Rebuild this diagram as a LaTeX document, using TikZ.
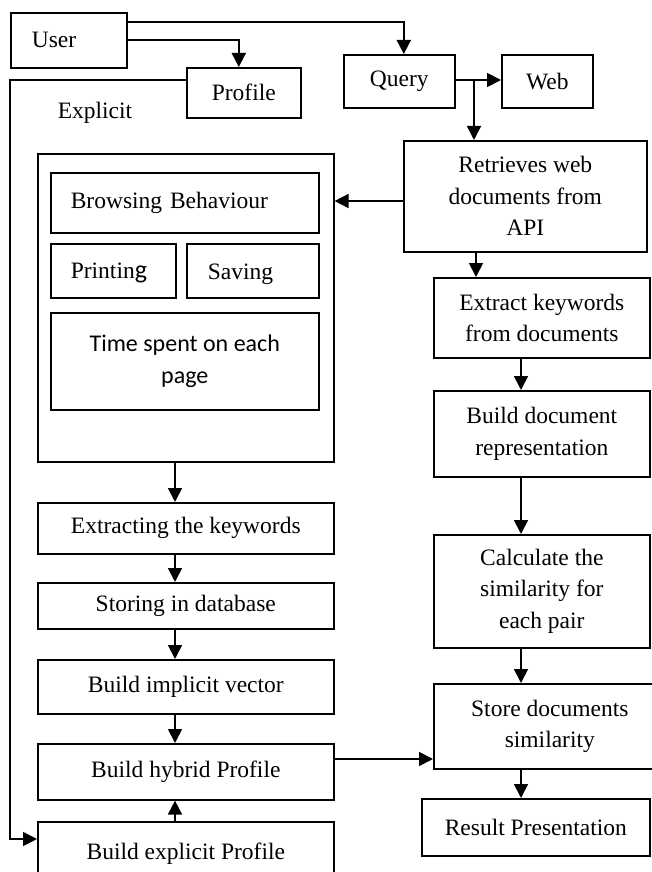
\documentclass[tikz,border=0pt]{standalone}
\usepackage{fontspec}
\setmainfont{Liberation Serif}
\newfontfamily\carlito{Carlito}
\usetikzlibrary{arrows.meta}

\tikzset{
  box/.style={draw, line width=1.6pt, rectangle, anchor=north west, inner sep=0pt,
    align=center, font=\fontsize{23.5}{31.5}\selectfont},
  lbox/.style={box, align=left},
  arr/.style={line width=1.8pt, -{Triangle[length=14pt,width=14pt]}},
  lbl/.style={font=\fontsize{23.5}{31.5}\selectfont, inner sep=0pt}
}

\begin{document}
\begin{tikzpicture}[x=1pt, y=-1pt]
  \useasboundingbox (0,0) rectangle (652,872);
  \fill[white] (0,0) rectangle (652,872);
  \clip (0,0) rectangle (652,872);

  % top row
  \node[lbox, minimum width=116pt, minimum height=55pt, inner xsep=21pt, text width=74pt] (User) at (10,12) {User};
  \node[box, minimum width=114pt, minimum height=50pt] (Profile) at (186,67) {Profile};
  \node[box, minimum width=111pt, minimum height=53pt] (Query) at (343,54) {Query};
  \node[box, minimum width=91pt, minimum height=53pt] (Web) at (501,54) {Web};
  \node[lbl] (ExplicitLbl) at (95,113) {Explicit};

  % implicit feedback block
  \node[box, minimum width=296pt, minimum height=308pt] (Bigbox) at (37,153) {};
  \node[lbox, minimum width=268pt, minimum height=60pt, inner xsep=20pt, text width=228pt] (Browse) at (50,172) {Browsing Behaviour};
  \node[lbox, minimum width=125pt, minimum height=54pt, inner xsep=20pt, text width=85pt, text depth=-6pt] (Print) at (50,243) {Printin{\carlito\fontsize{26}{30}\selectfont g}};
  \node[lbox, minimum width=132pt, minimum height=54pt, inner xsep=21pt, text width=90pt, text height=22pt] (Save) at (186,243) {Saving};
  \node[box, minimum width=268pt, minimum height=97pt, font=\carlito\fontsize{24}{32}\selectfont] (Time) at (50,312) {Time spent on each\\page};

  % left column
  \node[box, minimum width=296pt, minimum height=51pt] (ExtractKw) at (37,502) {Extracting the keywords};
  \node[box, minimum width=296pt, minimum height=46pt] (Storing) at (37,582) {Storing in database};
  \node[box, minimum width=296pt, minimum height=54pt] (Implicit) at (37,659) {Build implicit vector};
  \node[box, minimum width=296pt, minimum height=56pt] (Hybrid) at (37,743) {Build hybrid Profile};
  \node[box, minimum width=296pt, minimum height=64pt] (Explicit) at (37,821) {Build explicit Profile};

  % right column
  \node[box, minimum width=243pt, minimum height=111pt] (Retrieves) at (403,140) {Retrieves web\\documents from\\API};
  \node[box, minimum width=216pt, minimum height=80pt] (ExtractDocs) at (433,277) {Extract keywords\\from documents};
  \node[box, minimum width=216pt, minimum height=86pt] (BuildDoc) at (433,390) {Build document\\representation};
  \node[box, minimum width=216pt, minimum height=113pt] (Calc) at (433,534) {Calculate the\\similarity for\\each pair};
  \node[box, minimum width=232pt, minimum height=85pt] (StoreSim) at (433,683) {Store documents\\similarity};
  \node[box, minimum width=228pt, minimum height=57pt] (Result) at (421,798) {Result Presentation};

  % connector guide coordinates
  \coordinate (railtop) at (10,80);
  \coordinate (railbot) at (10,839);
  \coordinate (qw) at (474,80);
  \coordinate (rb) at (0,201);
  \coordinate (cA) at (476,0);
  \coordinate (cR) at (521,0);
  \coordinate (cL) at (175,0);
  \coordinate (hs) at (0,759);

  % connectors
  \draw[arr] ([yshift=-10pt]User.north east) -| ([xshift=4.5pt]Query.north);
  \draw[arr] ([yshift=-28pt]User.north east) -| ([xshift=-5pt]Profile.north);
  \draw[arr] (Profile.west |- railtop) -- (railtop) -- (railbot) -- (Explicit.west |- railbot);
  \draw[arr] (Query.east |- qw) -- (Web.west |- qw);
  \draw[arr] (qw) -- (Retrieves.north -| qw);
  \draw[arr] (Retrieves.west |- rb) -- (Bigbox.east |- rb);
  \draw[arr] (Retrieves.south -| cA) -- (ExtractDocs.north -| cA);
  \draw[arr] (ExtractDocs.south -| cR) -- (BuildDoc.north -| cR);
  \draw[arr] (BuildDoc.south -| cR) -- (Calc.north -| cR);
  \draw[arr] (Calc.south -| cR) -- (StoreSim.north -| cR);
  \draw[arr] (StoreSim.south -| cR) -- (Result.north -| cR);
  \draw[arr] (Bigbox.south -| cL) -- (ExtractKw.north -| cL);
  \draw[arr] (ExtractKw.south -| cL) -- (Storing.north -| cL);
  \draw[arr] (Storing.south -| cL) -- (Implicit.north -| cL);
  \draw[arr] (Implicit.south -| cL) -- (Hybrid.north -| cL);
  \draw[arr] (Explicit.north -| cL) -- (Hybrid.south -| cL);
  \draw[arr] (Hybrid.east |- hs) -- (StoreSim.west |- hs);
\end{tikzpicture}
\end{document}
